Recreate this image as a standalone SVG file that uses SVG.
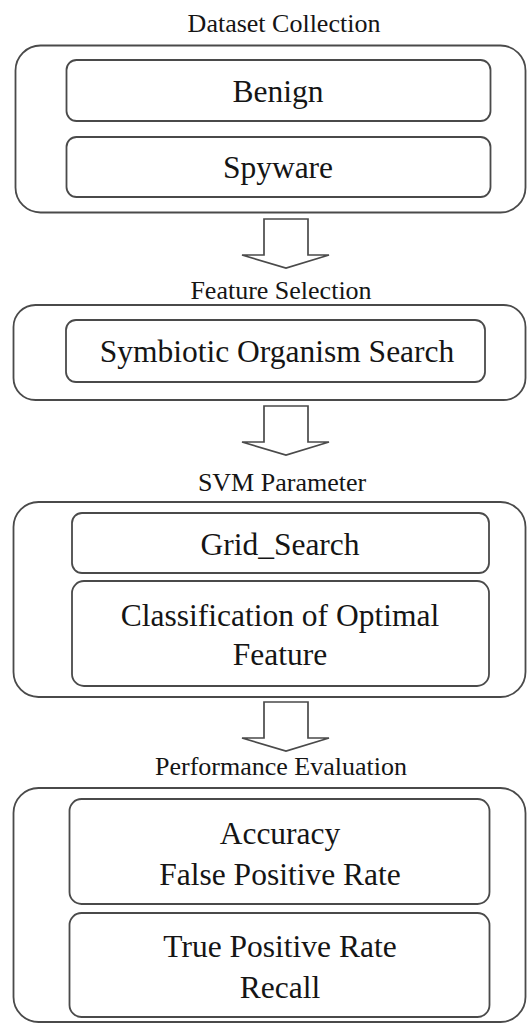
<svg xmlns="http://www.w3.org/2000/svg" width="527" height="1024" viewBox="0 0 527 1024">
  <style>
    .outer { fill: none; stroke: #4a4a4a; stroke-width: 1.8; }
    .inner { fill: none; stroke: #4a4a4a; stroke-width: 1.8; }
    .arrow { fill: #fff; stroke: #4a4a4a; stroke-width: 1.7; stroke-linejoin: miter; }
    text { fill: #151515; text-anchor: middle; font-family: "Liberation Serif", "Times New Roman", serif; }
    .title { font-size: 26px; }
    .label { font-size: 31.5px; }
  </style>
  <rect width="527" height="1024" fill="#fff"/>

  <!-- Stage 1: dataset collection -->
  <g id="dataset-collection">
    <text class="title" x="284" y="32">Dataset Collection</text>
    <rect class="outer" x="15.5" y="45.5" width="510" height="167" rx="25"/>
    <g id="benign">
      <rect class="inner" x="66.5" y="60" width="424" height="61" rx="10"/>
      <text class="label" x="278" y="102">Benign</text>
    </g>
    <g id="spyware">
      <rect class="inner" x="66.5" y="137" width="424" height="60" rx="10"/>
      <text class="label" x="278" y="178">Spyware</text>
    </g>
  </g>

  <!-- Stage 2: feature selection -->
  <g id="feature-selection">
    <text class="title" x="281" y="299">Feature Selection</text>
    <rect class="outer" x="13.5" y="305" width="512" height="95" rx="22"/>
    <g id="sos">
      <rect class="inner" x="66" y="320" width="419" height="62" rx="10"/>
      <text class="label" x="277" y="362">Symbiotic Organism Search</text>
    </g>
  </g>

  <!-- Stage 3: SVM parameter -->
  <g id="svm-parameter">
    <text class="title" x="282" y="491">SVM Parameter</text>
    <rect class="outer" x="13.5" y="502" width="512" height="195" rx="25"/>
    <g id="grid-search">
      <rect class="inner" x="72" y="513" width="417" height="60" rx="10"/>
      <text class="label" x="280" y="555">Grid_Search</text>
    </g>
    <g id="classification">
      <rect class="inner" x="72" y="581" width="417" height="105" rx="12"/>
      <text class="label" x="280" y="626">Classification of Optimal</text>
      <text class="label" x="280" y="665">Feature</text>
    </g>
  </g>

  <!-- Stage 4: performance evaluation -->
  <g id="performance-evaluation">
    <text class="title" x="281" y="775">Performance Evaluation</text>
    <rect class="outer" x="13.5" y="788" width="512" height="234" rx="25"/>
    <g id="accuracy-fpr">
      <rect class="inner" x="69.5" y="799" width="420" height="105" rx="12"/>
      <text class="label" x="280" y="844">Accuracy</text>
      <text class="label" x="280" y="885">False Positive Rate</text>
    </g>
    <g id="tpr-recall">
      <rect class="inner" x="69.5" y="913" width="420" height="104" rx="12"/>
      <text class="label" x="280" y="957">True Positive Rate</text>
      <text class="label" x="280" y="998">Recall</text>
    </g>
  </g>

  <!-- Block arrows between stages -->
  <g id="connectors">
    <polygon class="arrow" points="264,219 308,219 308,255 329,255 286,268 242,255 264,255"/>
    <polygon class="arrow" points="264,406 308,406 308,442 329,442 286,455 242,442 264,442"/>
    <polygon class="arrow" points="264,702 308,702 308,738 329,738 286,751 242,738 264,738"/>
  </g>
</svg>
